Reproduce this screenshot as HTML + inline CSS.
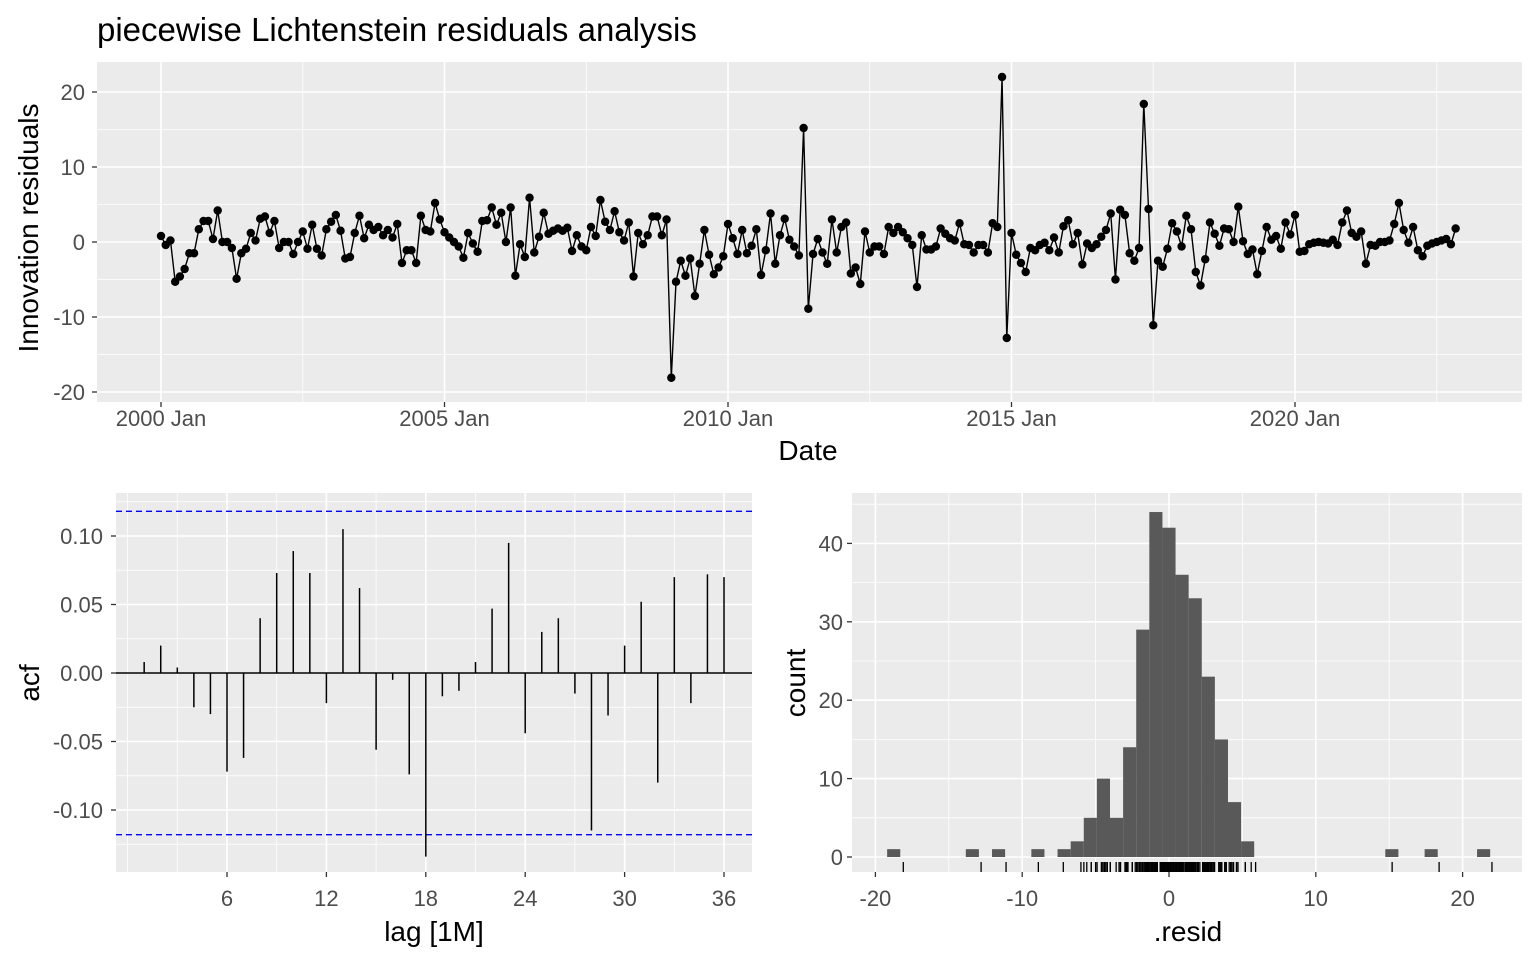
<!DOCTYPE html>
<html><head><meta charset="utf-8"><style>
body{margin:0;background:#fff;}
svg{display:block;font-family:"Liberation Sans",Arial,sans-serif;}
.tick{fill:#4d4d4d;font-size:22px;}
.ttl{fill:#000;font-size:28px;}
</style></head><body>
<svg id="chart" width="1536" height="960" viewBox="0 0 1536 960">
<text x="97" y="41" font-size="33" fill="#000">piecewise Lichtenstein residuals analysis</text>
<g id="top"></g>
<g id="acf"></g>
<g id="hist"></g>
</svg>
<script>
// ---- data ----
const resid = [0.8,-0.4,0.2,-5.3,-4.6,-3.6,-1.5,-1.5,1.7,2.8,2.8,0.4,4.2,0,0,-0.8,-4.9,-1.5,-0.9,1.2,0.2,3.1,3.4,1.2,2.8,-0.8,0,0,-1.6,0,
1.4,-0.9,2.3,-0.9,-1.8,1.7,2.7,3.6,1.5,-2.2,-2,1.2,3.5,0.5,2.3,1.6,2,0.9,1.6,0.6,2.4,-2.8,-1.1,-1.1,-2.8,3.5,1.6,1.4,5.2,3,
1.3,0.6,0,-0.6,-2.1,1.2,-0.2,-1.3,2.8,2.9,4.6,2.3,3.9,0,4.6,-4.5,-0.3,-2,5.9,-1.4,0.7,3.9,1.1,1.5,1.8,1.5,1.9,-1.2,0.9,-0.6,
-1.1,2,0.8,5.6,2.7,1.6,4.1,1.3,0.2,2.6,-4.6,1.2,-0.3,0.9,3.4,3.4,0.9,3,-18.1,-5.3,-2.5,-4.5,-2.2,-7.2,-2.9,1.6,-1.7,-4.3,-3.4,-1.9,
2.4,0.5,-1.6,1.6,-1.5,-0.5,1.7,-4.4,-1.1,3.8,-2.9,0.9,3.1,0.3,-0.6,-1.8,15.2,-8.9,-1.6,0.4,-1.4,-2.9,3,-1.4,2,2.6,-4.2,-3.4,-5.6,1.4,
-1.4,-0.6,-0.6,-1.6,2,1.2,2,1.3,0.5,-0.4,-6,0.9,-1,-1,-0.6,1.8,1.1,0.5,0.2,2.5,-0.3,-0.4,-1.4,-0.4,-0.4,-1.4,2.5,2,22,-12.8,
1.2,-1.7,-2.8,-4,-0.8,-1.1,-0.4,-0.1,-1.1,0.6,-1.4,2.1,2.9,-0.3,1.2,-3,-0.2,-0.8,-0.3,0.7,1.6,3.8,-5,4.3,3.6,-1.5,-2.5,-0.8,18.4,4.4,
-11.1,-2.5,-3.3,-0.9,2.5,1.4,-0.6,3.5,1.7,-4,-5.8,-2.3,2.6,1.1,-0.5,1.8,1.7,0,4.7,0.1,-1.6,-1,-4.3,-1.2,2,0.3,0.8,-0.9,2.6,1,
3.6,-1.3,-1.2,-0.3,-0.1,0,-0.1,-0.2,0.3,-0.4,2.6,4.2,1.2,0.7,1.4,-2.9,-0.4,-0.5,0,0,0.2,2.4,5.2,1.6,-0.1,2,-1.1,-1.9,-0.5,-0.2,
0,0.2,0.4,-0.3,1.8];
const startYear = 2000;
const yearTicks = [2000,2005,2010,2015,2020];
const residTicks = [-20,-10,0,10,20];
const acfVals = [0.008,0.02,0.004,-0.025,-0.03,-0.072,-0.062,0.04,0.073,0.089,0.073,-0.022,0.105,0.062,-0.056,-0.005,-0.074,-0.134,-0.017,-0.013,0.008,0.047,0.095,-0.044,0.03,0.04,-0.015,-0.115,-0.031,0.02,0.052,-0.08,0.07,-0.022,0.072,0.07];
const acfBound = 0.118;
const lagTicks = [6,12,18,24,30,36];
const acfTicks = [-0.10,-0.05,0,0.05,0.10];
const acfTickLabels = ["-0.10","-0.05","0.00","0.05","0.10"];
const binStart = -19.2, binWidth = 0.893;
const binCounts = [1,0,0,0,0,0,1,0,1,0,0,1,0,1,2,5,10,5,14,29,44,42,36,33,23,15,7,2,0,0,0,0,0,0,0,0,0,0,1,0,0,1,0,0,0,1];
const histXTicks = [-20,-10,0,10,20];
const histYTicks = [0,10,20,30,40];

const NS="http://www.w3.org/2000/svg";
function mk(parent,tag,attrs,text){const e=document.createElementNS(NS,tag);for(const k in attrs)e.setAttribute(k,attrs[k]);if(text!==undefined)e.textContent=text;parent.appendChild(e);return e;}

function panel(g,x0,y0,x1,y1,xs,ys,xMaj,xMin,yMaj,yMin){
  const bg=mk(g,'rect',{x:x0,y:y0,width:x1-x0,height:y1-y0,fill:'#ebebeb'});
  
  
  yMin.forEach(v=>{const y=ys(v);if(y>y0&&y<y1)mk(g,'line',{x1:x0,x2:x1,y1:y,y2:y,stroke:'#fff','stroke-width':0.8});});
  xMin.forEach(v=>{const x=xs(v);if(x>x0&&x<x1)mk(g,'line',{x1:x,x2:x,y1:y0,y2:y1,stroke:'#fff','stroke-width':0.8});});
  yMaj.forEach(v=>{const y=ys(v);mk(g,'line',{x1:x0,x2:x1,y1:y,y2:y,stroke:'#fff','stroke-width':1.6});mk(g,'line',{x1:x0-5,x2:x0,y1:y,y2:y,stroke:'#333','stroke-width':1.3});});
  xMaj.forEach(v=>{const x=xs(v);mk(g,'line',{x1:x,x2:x,y1:y0,y2:y1,stroke:'#fff','stroke-width':1.6});mk(g,'line',{x1:x,x2:x,y1:y1,y2:y1+5,stroke:'#333','stroke-width':1.3});});
}

// ---- top time plot ----
(function(){
  const g=document.getElementById('top');
  const x0=97,x1=1522,y0=62,y1=402;
  const xs=m=>161+m*4.725;
  const ys=v=>242-v*7.5;
  const yrM=y=>(y-startYear)*12;
  const xMaj=yearTicks.map(yrM);
  const xMin=yearTicks.map(y=>yrM(y)+30);
  panel(g,x0,y0,x1,y1,xs,ys,xMaj,xMin,residTicks,[-15,-5,5,15]);
  residTicks.forEach(v=>{const t=mk(g,'text',{x:85,y:ys(v)+8,'text-anchor':'end',class:'tick'},String(v));
    
    });
  yearTicks.forEach(y=>{const t=mk(g,'text',{x:xs(yrM(y)),y:426,'text-anchor':'middle',class:'tick'},y+' Jan');
    
    });
  const pts=resid.map((v,i)=>xs(i).toFixed(2)+','+ys(v).toFixed(2)).join(' ');
  const line=mk(g,'polyline',{points:pts,fill:'none',stroke:'#000','stroke-width':1.4});
  
  
  resid.forEach((v,i)=>{const c=mk(g,'circle',{cx:xs(i),cy:ys(v),r:4.2,fill:'#000'});
    
    });
  const xt=mk(g,'text',{x:808,y:460,'text-anchor':'middle',class:'ttl'},'Date');
  
  
  const yt=mk(g,'text',{x:0,y:0,'text-anchor':'middle',class:'ttl',transform:'translate(38,228) rotate(-90)'},'Innovation residuals');
  
  
})();

// ---- ACF ----
(function(){
  const g=document.getElementById('acf');
  const x0=116,x1=752,y0=493,y1=872;
  const xs=l=>127.6+l*16.567;
  const ys=v=>673-v*1370;
  panel(g,x0,y0,x1,y1,xs,ys,lagTicks,[0,3,9,15,21,27,33],acfTicks,[-0.125,-0.075,-0.025,0.025,0.075,0.125]);
  acfTicks.forEach((v,i)=>{const t=mk(g,'text',{x:103,y:ys(v)+8,'text-anchor':'end',class:'tick'},acfTickLabels[i]);
    
    });
  lagTicks.forEach(l=>{const t=mk(g,'text',{x:xs(l),y:906,'text-anchor':'middle',class:'tick'},String(l));
    
    });
  const z=mk(g,'line',{x1:x0,x2:x1,y1:ys(0),y2:ys(0),stroke:'#000','stroke-width':1.5});
  
  
  [acfBound,-acfBound].forEach(b=>{const l=mk(g,'line',{x1:x0,x2:x1,y1:ys(b),y2:ys(b),stroke:'#0000ff','stroke-width':1.4,'stroke-dasharray':'6,4'});
    
    });
  acfVals.forEach((v,i)=>{const l=mk(g,'line',{x1:xs(i+1),x2:xs(i+1),y1:ys(0),y2:ys(v),stroke:'#000','stroke-width':1.5});
    
    });
  const xt=mk(g,'text',{x:434,y:941,'text-anchor':'middle',class:'ttl'},'lag [1M]');
  
  
  const yt=mk(g,'text',{x:0,y:0,'text-anchor':'middle',class:'ttl',transform:'translate(39,683) rotate(-90)'},'acf');
  
  
})();

// ---- histogram ----
(function(){
  const g=document.getElementById('hist');
  const x0=852,x1=1522,y0=493,y1=872;
  const xs=v=>1169+v*14.68;
  const ys=c=>857-c*7.84;
  panel(g,x0,y0,x1,y1,xs,ys,histXTicks,[-15,-5,5,15],histYTicks,[5,15,25,35,45]);
  histYTicks.forEach(v=>{const t=mk(g,'text',{x:843,y:ys(v)+8,'text-anchor':'end',class:'tick'},String(v));
    
    });
  histXTicks.forEach(v=>{const t=mk(g,'text',{x:xs(v),y:906,'text-anchor':'middle',class:'tick'},String(v));
    
    });
  binCounts.forEach((c,i)=>{if(!c)return;const a=binStart+i*binWidth;
    const r=mk(g,'rect',{x:xs(a),y:ys(c),width:xs(a+binWidth)-xs(a),height:ys(0)-ys(c),fill:'#595959'});
    
    });
  resid.forEach(v=>{const l=mk(g,'line',{x1:xs(v),x2:xs(v),y1:862,y2:872,stroke:'#000','stroke-width':1.3});
    
    });
  const xt=mk(g,'text',{x:1188,y:941,'text-anchor':'middle',class:'ttl'},'.resid');
  
  
  const yt=mk(g,'text',{x:0,y:0,'text-anchor':'middle',class:'ttl',transform:'translate(805,683) rotate(-90)'},'count');
  
  
})();
</script>
</body></html>
